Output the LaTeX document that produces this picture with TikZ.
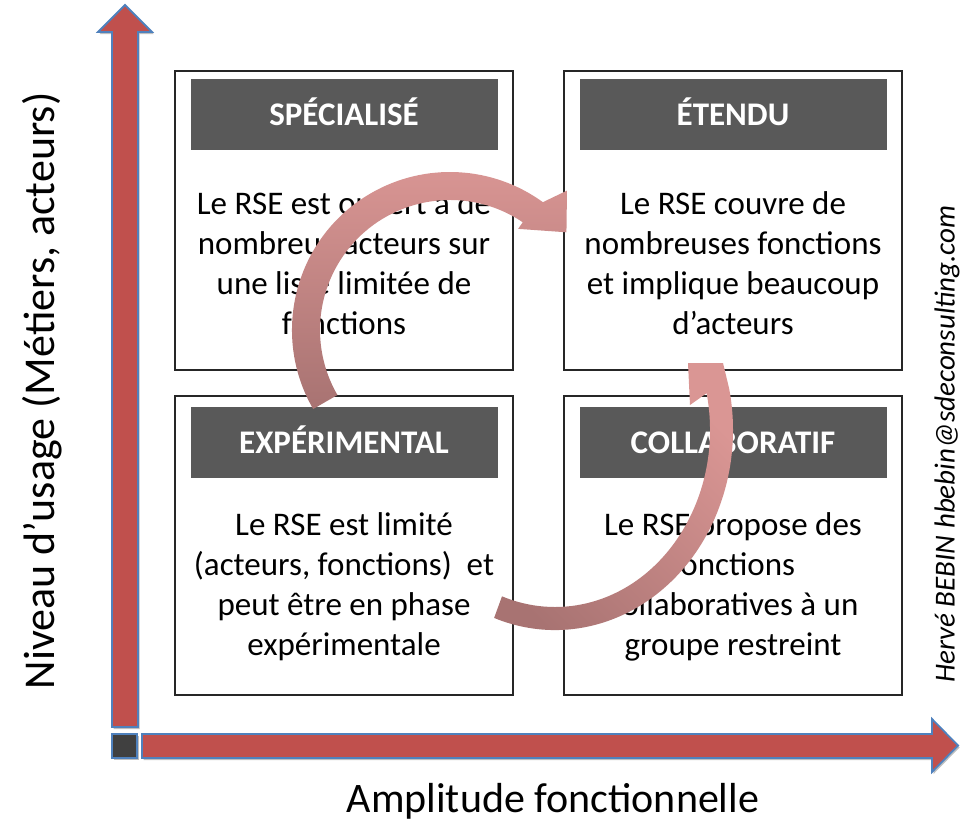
\documentclass[tikz,border=0pt]{standalone}
\usepackage{fontspec}
\setmainfont{Carlito}
\usetikzlibrary{positioning,shadows}
\definecolor{AxisRed}{RGB}{192,80,77}
\definecolor{AxisBlue}{RGB}{79,129,189}
\definecolor{CornerGray}{RGB}{64,64,64}
\definecolor{HeadGray}{RGB}{89,89,89}
\definecolor{FrameGray}{RGB}{38,38,38}
\definecolor{CycleDark}{RGB}{168,115,114}
\definecolor{CycleLight}{RGB}{218,150,148}

\begin{document}
\begin{tikzpicture}[x=1pt, y=-1pt,
    frame/.style={draw=FrameGray, line width=1.6pt, minimum width=338pt, minimum height=299pt},
    header/.style={fill=HeadGray, text=white, font=\fontsize{33}{36}\selectfont\bfseries,
      text height=21pt, text depth=0pt, minimum width=307pt, minimum height=71pt},
    body/.style={align=center, font=\fontsize{33}{40}\selectfont},
    axis/.style={fill=AxisRed, draw=AxisBlue, line width=1.8pt,
      drop shadow={shadow xshift=1.5pt, shadow yshift=-2pt, fill=black, opacity=0.25}},
    cyclearrow/.style={top color=CycleLight, bottom color=CycleDark}]
  \useasboundingbox (0,0) rectangle (968,838);

  \draw[axis] (112,727) -- (112,32) -- (98,32) -- (125,5) -- (152,32) -- (138,32) -- (138,727) -- cycle;
  \draw[axis] (142,734) -- (932,734) -- (932,719) -- (958,745.5) -- (932,772) -- (932,758) -- (142,758) -- cycle;
  \draw[axis, fill=CornerGray] (112,734) rectangle (137,758);

  \node[frame] (spec) at (344,220.5) {};
  \node[header, below=9pt of spec.north] (specT) {SPÉCIALISÉ};
  \node[body] (specB) at (344,263) {Le RSE est ouvert a de\\nombreux acteurs sur\\une liste limitée de\\fonctions};

  \node[frame] (eten) at (733,220.5) {};
  \node[header, below=9pt of eten.north] (etenT) {ÉTENDU};
  \node[body] (etenB) at (733,263) {Le RSE couvre de\\nombreuses fonctions\\et implique beaucoup\\d’acteurs};

  \node[frame] (expe) at (344,545.5) {};
  \node[header, below=12pt of expe.north] (expeT) {EXPÉRIMENTAL};
  \node[body] (expeB) at (344,587) {Le RSE est limité\\(acteurs, fonctions)~ et\\peut être en phase\\expérimentale};

  \node[frame] (coll) at (733,545.5) {};
  \node[header, below=12pt of coll.north] (collT) {COLLABORATIF};
  \node[body] (collB) at (733,587) {Le RSE propose des\\fonctions\\collaboratives à un\\groupe restreint};

  \node[rotate=90, font=\fontsize{44}{48}\selectfont] (yaxis) at (42,391) {Niveau d’usage (Métiers, acteurs)};
  \node[font=\fontsize{42}{46}\selectfont] (xaxis) at (553,801) {Amplitude fonctionnelle};
  \node[rotate=90, font=\fontsize{29}{32}\selectfont\itshape] (credit) at (947,444) {Hervé BEBIN hbebin@sdeconsulting.com};

  \coordinate (c1) at (450,330);
  \shade[cyclearrow] ([shift={(150:158)}]c1) arc[start angle=150, end angle=306, radius=158]
    -- ([shift={(310:182)}]c1) -- ([shift={(320:152)}]c1) -- ([shift={(304:122)}]c1)
    -- ([shift={(304:130)}]c1) arc[start angle=304, end angle=150, radius=130] -- cycle;

  \coordinate (c2) at (555,430);
  \shade[cyclearrow, shading angle=-45] ([shift={(110:178 and 200)}]c2)
    arc[start angle=110, end angle=-12, x radius=178, y radius=200]
    -- (723,363) -- (688,363) -- (690,405) -- ([shift={(-12:155 and 177)}]c2)
    arc[start angle=-12, end angle=110, x radius=155, y radius=177] -- cycle;
\end{tikzpicture}
\end{document}
